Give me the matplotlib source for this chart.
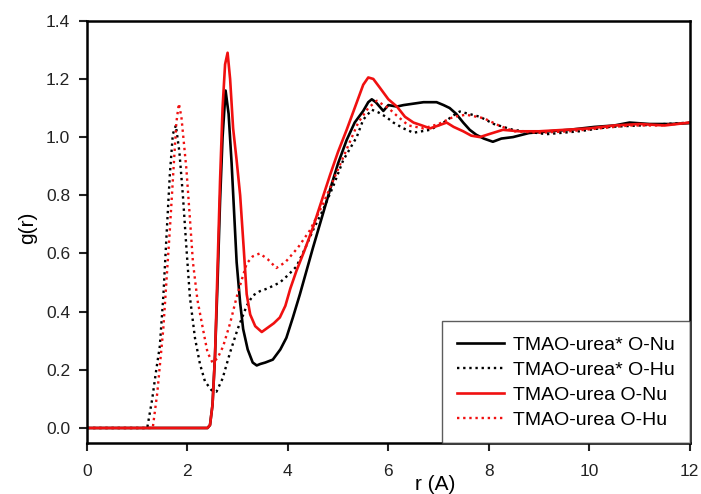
import numpy as np
import matplotlib
matplotlib.use('Agg')
import matplotlib.pyplot as plt

plt.rcParams['font.family'] = ['Liberation Sans', 'DejaVu Sans']

# TMAO-urea* O-Nu (black solid)
r_bk_nu = [0, 2.40, 2.45, 2.50, 2.55, 2.60, 2.65, 2.70, 2.76, 2.82, 2.88, 2.93, 2.98, 3.05,
           3.11, 3.20, 3.30, 3.38, 3.45, 3.55, 3.70, 3.85, 3.97, 4.10, 4.24, 4.37, 4.50,
           4.67, 4.84, 5.00, 5.17, 5.33, 5.50, 5.60, 5.67, 5.75, 5.90, 6.00, 6.17, 6.30,
           6.50, 6.70, 6.96, 7.10, 7.22, 7.35, 7.49, 7.62, 7.75, 7.90, 8.08, 8.25, 8.48,
           8.80, 9.20, 9.60, 10.1, 10.5, 10.8, 11.2, 11.6, 12.0]
g_bk_nu = [0, 0, 0.01, 0.08, 0.25, 0.50, 0.78, 1.00, 1.16, 1.08, 0.91, 0.74, 0.57, 0.43,
           0.34, 0.27, 0.225, 0.215, 0.22, 0.225, 0.235, 0.27, 0.31, 0.38, 0.46, 0.54, 0.62,
           0.72, 0.82, 0.91, 0.99, 1.05, 1.09, 1.12, 1.13, 1.12, 1.09, 1.11, 1.105, 1.11,
           1.115, 1.12, 1.12, 1.11, 1.10, 1.08, 1.05, 1.025, 1.008, 0.995, 0.984, 0.995, 1.0,
           1.014, 1.02, 1.025, 1.035, 1.04, 1.05, 1.045, 1.045, 1.048]

# TMAO-urea* O-Hu (black dotted)
r_bk_hu = [0, 1.20, 1.30, 1.38, 1.45, 1.52, 1.59, 1.65, 1.71, 1.77, 1.84, 1.91, 1.98, 2.05,
           2.15, 2.25, 2.35, 2.48, 2.58, 2.70, 2.85, 3.00, 3.18, 3.30, 3.44, 3.60, 3.84,
           4.00, 4.17, 4.35, 4.50, 4.70, 4.90, 5.10, 5.37, 5.50, 5.67, 5.80, 5.95, 6.10,
           6.30, 6.50, 6.83, 7.10, 7.30, 7.42, 7.60, 7.82, 8.10, 8.48, 9.15, 9.80, 10.4,
           11.0, 11.5, 12.0]
g_bk_hu = [0, 0, 0.10, 0.20, 0.28, 0.45, 0.68, 0.87, 1.01, 1.04, 0.95, 0.80, 0.62, 0.45,
           0.31, 0.22, 0.16, 0.13, 0.125, 0.17, 0.26, 0.34, 0.42, 0.455, 0.47, 0.48, 0.50,
           0.525, 0.555, 0.62, 0.68, 0.75, 0.83, 0.92, 1.00, 1.06, 1.094, 1.085, 1.07, 1.05,
           1.03, 1.015, 1.025, 1.05, 1.075, 1.088, 1.08, 1.07, 1.045, 1.025, 1.01, 1.02, 1.035,
           1.04, 1.045, 1.05]

# TMAO-urea O-Nu (red solid)
r_rd_nu = [0, 2.40, 2.45, 2.50, 2.55, 2.60, 2.65, 2.70, 2.75, 2.80, 2.85, 2.91, 2.98, 3.05,
           3.12, 3.18, 3.25, 3.35, 3.48, 3.60, 3.72, 3.84, 3.95, 4.05, 4.17, 4.33, 4.50,
           4.67, 4.84, 5.00, 5.17, 5.33, 5.50, 5.60, 5.70, 5.83, 6.00, 6.17, 6.33, 6.50,
           6.67, 6.83, 7.00, 7.16, 7.30, 7.49, 7.65, 7.82, 8.00, 8.28, 8.60, 9.00, 9.50,
           10.0, 10.5, 11.0, 11.5, 12.0]
g_rd_nu = [0, 0, 0.01, 0.08, 0.25, 0.55, 0.85, 1.10, 1.25, 1.29, 1.20, 1.03, 0.92, 0.80,
           0.62, 0.46, 0.39, 0.35, 0.33, 0.345, 0.36, 0.38, 0.42, 0.48, 0.54, 0.61, 0.69,
           0.78, 0.87, 0.95, 1.025, 1.10, 1.18, 1.205, 1.20, 1.17, 1.13, 1.105, 1.07, 1.05,
           1.04, 1.03, 1.04, 1.05, 1.035, 1.02, 1.005, 1.0, 1.01, 1.025, 1.02, 1.02, 1.025,
           1.03, 1.04, 1.045, 1.04, 1.05]

# TMAO-urea O-Hu (red dotted)
r_rd_hu = [0, 1.31, 1.40, 1.52, 1.60, 1.65, 1.72, 1.78, 1.83, 1.88, 1.93, 1.98, 2.05, 2.11,
           2.20, 2.31, 2.40, 2.50, 2.60, 2.71, 2.85, 2.98, 3.10, 3.18, 3.30, 3.44, 3.60,
           3.77, 3.95, 4.20, 4.44, 4.70, 4.95, 5.20, 5.40, 5.60, 5.77, 6.00, 6.16, 6.40,
           6.70, 7.00, 7.30, 7.55, 7.90, 8.20, 8.50, 9.00, 9.60, 10.2, 10.8, 11.4, 12.0]
g_rd_hu = [0, 0, 0.12, 0.34, 0.55, 0.68, 0.88, 1.05, 1.115, 1.07, 0.98, 0.89, 0.72, 0.57,
           0.44, 0.34, 0.26, 0.225, 0.24, 0.28, 0.36, 0.45, 0.52, 0.565, 0.59, 0.60, 0.58,
           0.55, 0.57, 0.62, 0.68, 0.77, 0.87, 0.97, 1.05, 1.10, 1.125, 1.10, 1.075, 1.04,
           1.03, 1.045, 1.07, 1.077, 1.065, 1.04, 1.02, 1.015, 1.02, 1.03, 1.04, 1.04, 1.05]

labels = ['TMAO-urea* O-Nu', 'TMAO-urea* O-Hu', 'TMAO-urea O-Nu', 'TMAO-urea O-Hu']

fig = plt.figure(figsize=(7.01, 4.94), dpi=100)
ax = fig.add_axes([0.124, 0.103, 0.86, 0.855])

red = '#f01010'
ax.plot(r_bk_nu, g_bk_nu, color='black', lw=1.9, label=labels[0])
ax.plot(r_bk_hu, g_bk_hu, color='black', lw=1.7, ls=(0, (1, 1.6)), label=labels[1])
ax.plot(r_rd_nu, g_rd_nu, color=red, lw=1.9, label=labels[2])
ax.plot(r_rd_hu, g_rd_hu, color=red, lw=1.7, ls=(0, (1, 1.6)), label=labels[3])

ax.set_xlim(0, 12)
ax.set_ylim(-0.052, 1.4)
ax.set_xticks([0, 2, 4, 6, 8, 10, 12])
ax.set_yticks([0.0, 0.2, 0.4, 0.6, 0.8, 1.0, 1.2, 1.4])
ax.set_yticklabels(['%.1f' % v for v in ax.get_yticks()])
ax.tick_params(axis='both', direction='out', length=6, width=1.5, labelsize=12.5, colors='#222222')
ax.tick_params(axis='x', pad=9)
ax.tick_params(axis='y', pad=6)
for s in ax.spines.values():
    s.set_linewidth(1.8)

ax.set_xlabel('r (A)', fontsize=15)
ax.set_ylabel('g(r)', fontsize=15)
ax.xaxis.set_label_coords(0.578, -0.075)
ax.yaxis.set_label_coords(-0.082, 0.51)

leg = ax.legend(loc='lower right', fontsize=14, frameon=True, fancybox=False,
                borderaxespad=0, handlelength=2.4, labelspacing=0.38,
                borderpad=0.75, handletextpad=0.5)
leg.get_frame().set_edgecolor('#333333')
leg.get_frame().set_linewidth(1.0)

fig.savefig('out.png', dpi=100)
